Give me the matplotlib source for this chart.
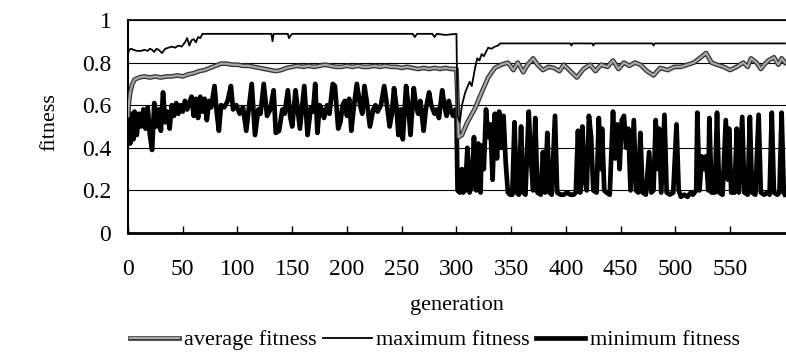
import matplotlib
matplotlib.use("Agg")
import matplotlib.pyplot as plt
import matplotlib.patheffects as pe

# ---- data (generation, fitness) ----
avg_gen = [0, 1, 2, 4, 6, 10, 15, 20, 25, 30, 35, 40, 45, 50, 55, 60, 65, 70, 75, 80,
           85, 90, 95, 100, 105, 110, 115, 120, 125, 130, 135, 140, 145, 150, 155, 160,
           165, 170, 175, 180, 185, 190, 195, 200, 205, 210, 215, 220, 225, 230, 235,
           240, 245, 250, 255, 260, 265, 270, 275, 280, 285, 290, 295, 300, 302, 305,
           310, 317, 323, 329, 335, 341, 347, 352, 356, 361, 365, 370, 374, 379, 384,
           389, 394, 398, 404, 410, 416, 422, 427, 432, 438, 443, 448, 453, 458, 463,
           468, 474, 480, 486, 493, 499, 505, 511, 517, 522, 528, 533, 538, 544, 550,
           556, 562, 566, 569, 574, 578, 581, 585, 590, 594, 597, 600]
avg_fit = [0.55, 0.62, 0.66, 0.70, 0.72, 0.73, 0.735, 0.73, 0.735, 0.73, 0.735, 0.735,
           0.74, 0.735, 0.745, 0.75, 0.76, 0.765, 0.775, 0.785, 0.795, 0.795, 0.79,
           0.79, 0.785, 0.785, 0.78, 0.775, 0.77, 0.765, 0.76, 0.765, 0.775, 0.78,
           0.785, 0.78, 0.785, 0.78, 0.785, 0.79, 0.785, 0.78, 0.78, 0.785, 0.78,
           0.785, 0.78, 0.78, 0.785, 0.78, 0.785, 0.78, 0.78, 0.775, 0.78, 0.775,
           0.77, 0.775, 0.77, 0.775, 0.77, 0.775, 0.77, 0.77, 0.45, 0.46, 0.52, 0.585,
           0.66, 0.73, 0.775, 0.79, 0.80, 0.765, 0.80, 0.755, 0.79, 0.82, 0.79, 0.765,
           0.78, 0.775, 0.76, 0.79, 0.76, 0.73, 0.77, 0.79, 0.76, 0.79, 0.78, 0.81,
           0.77, 0.80, 0.785, 0.80, 0.79, 0.76, 0.74, 0.775, 0.765, 0.78, 0.78, 0.79,
           0.80, 0.82, 0.845, 0.80, 0.79, 0.78, 0.765, 0.78, 0.80, 0.78, 0.82, 0.80,
           0.77, 0.79, 0.81, 0.825, 0.79, 0.82, 0.80]

max_gen = [0, 1, 3, 5, 8, 12, 15, 18, 20, 22, 24, 26, 28, 31, 34, 37, 40, 43, 46, 49,
           52, 54, 56, 58, 60, 62, 64, 66, 68, 131, 132, 133, 146, 147, 149, 150, 260,
           262, 264, 278, 280, 282, 290, 300, 301, 303, 305, 308, 312, 314, 317, 319,
           321, 323, 325, 327, 329, 332, 335, 338, 340, 404, 405, 406, 424, 425, 426,
           479, 480, 481, 600]
max_fit = [0.84, 0.86, 0.865, 0.86, 0.855, 0.855, 0.86, 0.855, 0.865, 0.86, 0.85,
           0.865, 0.86, 0.845, 0.865, 0.87, 0.875, 0.87, 0.88, 0.875, 0.895, 0.915,
           0.88, 0.905, 0.91, 0.895, 0.92, 0.915, 0.935, 0.935, 0.90, 0.935, 0.935,
           0.915, 0.93, 0.935, 0.935, 0.92, 0.935, 0.935, 0.92, 0.935, 0.93, 0.935,
           0.55, 0.52, 0.60, 0.66, 0.71, 0.69, 0.775, 0.82, 0.81, 0.84, 0.83, 0.85,
           0.87, 0.865, 0.875, 0.88, 0.89, 0.89, 0.88, 0.89, 0.89, 0.88, 0.89, 0.89,
           0.88, 0.89, 0.89]

min_gen = [0, 1, 2, 3, 5, 6, 8, 10, 12, 14, 16, 18, 20, 22, 24, 26, 28, 30, 32, 34,
           36, 38, 40, 42, 44, 46, 48, 50, 52, 54, 56, 58, 60, 62, 64, 66, 68, 70, 72,
           74, 76, 79, 81, 83, 85, 88, 91, 94, 96, 99, 102, 105, 108, 110, 113, 116,
           119, 121, 124, 127, 130, 133, 135, 138, 141, 143, 146, 148, 150, 153, 155,
           157, 161, 164, 167, 169, 171, 173, 175, 177, 179, 182, 184, 187, 189, 192,
           194, 196, 198, 200, 202, 204, 206, 209, 212, 214, 216, 218, 221, 224, 226,
           228, 231, 234, 236, 239, 241, 243, 245, 247, 249, 251, 254, 256, 258, 261,
           263, 265, 267, 270, 272, 275, 277, 280, 282, 284, 287, 289, 291, 293, 295,
           297, 299, 300,
           301, 303, 305, 306, 308, 310, 312, 314, 316, 318, 320, 322, 323, 325, 327,
           329, 331, 333, 335, 337, 339, 341, 343, 345, 347, 349, 351, 353, 355, 357,
           359, 361, 363, 366, 368, 370, 372, 374, 377, 379, 381, 383, 385, 387, 390,
           392, 395, 398, 401, 404, 407, 409, 411, 413, 415, 417, 419, 421, 423, 425,
           428, 430, 432, 433, 435, 437, 440, 443, 445, 447, 449, 451, 453, 455, 457,
           459, 462, 464, 466, 468, 470, 473, 476, 478, 480, 482, 484, 485, 487, 490,
           492, 495, 498, 501, 503, 505, 508, 511, 514, 516, 519, 520, 522, 524, 526,
           528, 530, 531, 533, 536, 538, 540, 543, 546, 548, 549, 551, 554, 556, 558,
           561, 563, 566, 568, 570, 573, 576, 578, 581, 584, 586, 588, 590, 593, 595,
           597, 599, 600]
min_fit = [0.43, 0.55, 0.42, 0.56, 0.44, 0.57, 0.46, 0.56, 0.50, 0.58, 0.49, 0.59,
           0.46, 0.39, 0.61, 0.50, 0.58, 0.48, 0.66, 0.52, 0.57, 0.49, 0.60, 0.55,
           0.61, 0.56, 0.60, 0.57, 0.62, 0.58, 0.61, 0.64, 0.55, 0.63, 0.54, 0.64,
           0.57, 0.63, 0.53, 0.62, 0.59, 0.69, 0.57, 0.48, 0.60, 0.59, 0.62, 0.69,
           0.58, 0.60, 0.56, 0.59, 0.48, 0.57, 0.70, 0.46, 0.58, 0.56, 0.70, 0.55,
           0.58, 0.67, 0.47, 0.48, 0.58, 0.56, 0.67, 0.55, 0.50, 0.67, 0.58, 0.49,
           0.69, 0.46, 0.59, 0.57, 0.70, 0.47, 0.60, 0.58, 0.54, 0.60, 0.56, 0.70,
           0.69, 0.49, 0.52, 0.60, 0.62, 0.55, 0.63, 0.48, 0.58, 0.70, 0.60, 0.56,
           0.69, 0.62, 0.50, 0.58, 0.60, 0.57, 0.60, 0.69, 0.62, 0.50, 0.56, 0.68,
           0.60, 0.46, 0.58, 0.44, 0.69, 0.60, 0.46, 0.68, 0.60, 0.56, 0.62, 0.48,
           0.58, 0.66, 0.60, 0.56, 0.58, 0.54, 0.67, 0.60, 0.55, 0.62, 0.57, 0.55,
           0.58, 0.56,
           0.20, 0.19, 0.30, 0.19, 0.20, 0.40, 0.19, 0.22, 0.45, 0.20, 0.42, 0.19,
           0.41, 0.30, 0.58, 0.45, 0.51, 0.25, 0.56, 0.35, 0.57, 0.40, 0.55, 0.33,
           0.19, 0.18, 0.18, 0.52, 0.19, 0.18, 0.50, 0.19, 0.18, 0.57, 0.35, 0.20,
           0.54, 0.19, 0.18, 0.38, 0.19, 0.47, 0.19, 0.18, 0.55, 0.19, 0.18, 0.18,
           0.19, 0.18, 0.18, 0.19, 0.48, 0.19, 0.50, 0.25, 0.20, 0.55, 0.45, 0.20,
           0.19, 0.54, 0.30, 0.49, 0.20, 0.19, 0.18, 0.57, 0.35, 0.51, 0.30, 0.53,
           0.55, 0.40, 0.49, 0.20, 0.53, 0.20, 0.19, 0.47, 0.19, 0.18, 0.38, 0.19,
           0.20, 0.53, 0.30, 0.49, 0.19, 0.555, 0.19, 0.18, 0.19, 0.51, 0.20, 0.17,
           0.18, 0.17, 0.19, 0.18, 0.20, 0.565, 0.20, 0.36, 0.30, 0.36, 0.20, 0.54,
           0.19, 0.19, 0.565, 0.19, 0.18, 0.53, 0.25, 0.49, 0.19, 0.19, 0.49, 0.19,
           0.545, 0.19, 0.18, 0.545, 0.19, 0.18, 0.555, 0.19, 0.18, 0.19, 0.18,
           0.565, 0.19, 0.18, 0.19, 0.565, 0.19, 0.18]

xticks = [0, 50, 100, 150, 200, 250, 300, 350, 400, 450, 500, 550]
yticks = [0, 0.2, 0.4, 0.6, 0.8, 1]
ytick_labels = ["0", "0.2", "0.4", "0.6", "0.8", "1"]


def main(outfile="out.png"):
    plt.rcParams["font.family"] = ["Liberation Serif", "DejaVu Serif"]

    fig = plt.figure(figsize=(7.86, 3.54), dpi=100)
    ax = fig.add_axes([128 / 786, 121 / 354, 1 - 128 / 786, 213 / 354])

    for y in yticks[1:]:
        ax.axhline(y, color="black", lw=0.8, zorder=1)

    avg_fx = [pe.Stroke(linewidth=3.4, foreground="#333333"), pe.Normal()]
    ax.plot(avg_gen, avg_fit, color="#a8a8a8", lw=1.6, zorder=3,
            path_effects=avg_fx, label="average fitness")
    ax.plot(max_gen, max_fit, color="black", lw=1.3, zorder=4,
            label="maximum fitness")
    ax.plot(min_gen, min_fit, color="black", lw=3.4, zorder=2,
            label="minimum fitness")

    ax.set_xlim(0, 601)
    ax.set_ylim(0, 1)
    ax.set_xticks(xticks)
    ax.set_xticklabels([str(t) for t in xticks])
    ax.set_yticks(yticks)
    ax.set_yticklabels(ytick_labels)
    ax.tick_params(axis="x", direction="in", length=5, width=1, pad=19,
                   labelsize=17)
    ax.tick_params(axis="y", length=0, pad=12, labelsize=17)

    ax.spines["right"].set_visible(False)
    ax.spines["bottom"].set_linewidth(2)
    ax.spines["left"].set_linewidth(1.5)
    ax.spines["top"].set_linewidth(1.2)

    ax.set_xlabel("generation", fontsize=16)
    ax.xaxis.set_label_coords(0.5, -0.295)
    ax.set_ylabel("fitness", fontsize=16)
    ax.yaxis.set_label_coords(-0.105, 0.52)

    fig.legend(loc="center", bbox_to_anchor=(435 / 786, 1 - 340 / 354), ncol=3,
               frameon=False, fontsize=16, handlelength=2.2, handletextpad=0.2,
               columnspacing=0.3, borderaxespad=0, borderpad=0)

    fig.savefig(outfile, dpi=100)


if __name__ == "__main__":
    main()
